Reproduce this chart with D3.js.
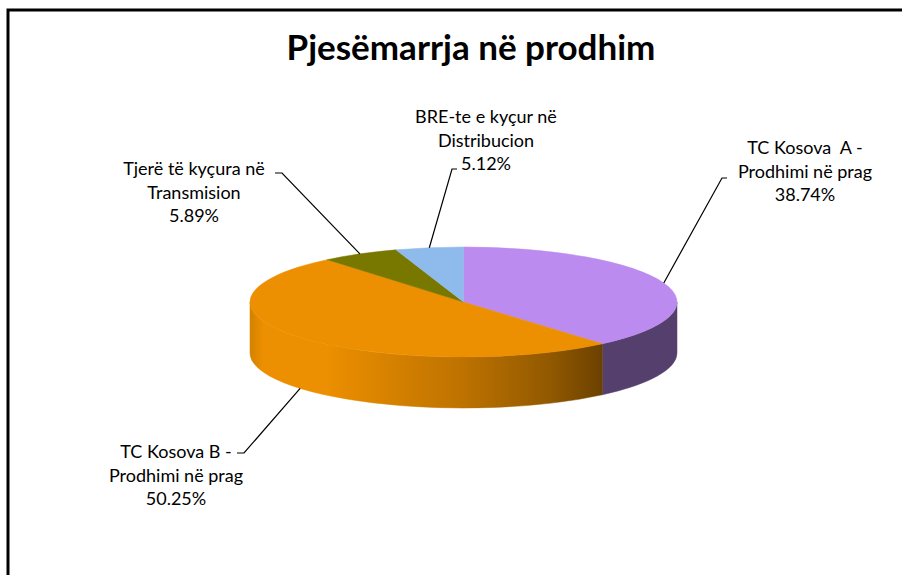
<!DOCTYPE html>
<html>
<head>
<meta charset="utf-8">
<script src="https://cdn.jsdelivr.net/npm/d3@7"></script>
<style>
  html, body { margin: 0; padding: 0; background: #fff; }
  svg { display: block; }
  text { white-space: pre; }
</style>
</head>
<body>
<div id="chart"></div>
<script>
// data
var title = 'Pjesëmarrja në prodhim';
var categories = ['TC Kosova  A - Prodhimi në prag', 'TC Kosova B - Prodhimi në prag', 'Tjerë të kyçura në Transmision', 'BRE-te e kyçur në Distribucion'];
var labelLines = [
  ['TC Kosova  A -', 'Prodhimi në prag'],
  ['TC Kosova B -', 'Prodhimi në prag'],
  ['Tjerë të kyçura në', 'Transmision'],
  ['BRE-te e kyçur në', 'Distribucion']
];
var values = [38.74, 50.25, 5.89, 5.12];
var colors = ['#bc8bef', '#ec8f00', '#787800', '#8ebbeb'];

// label layout: centre x / first baseline, and where the leader elbow sits
var labelPos = [[805, 154], [176, 458], [194, 175], [486, 123]];
var elbowPos = [[727, 178], [237, 453], [275, 173], [457, 169]];

var W = 902, H = 575;
var cx = 463.5, cy = 302, rx = 213.5, ry = 55, depth = 51;

var svg = d3.select('#chart').append('svg').attr('width', W).attr('height', H);

// chart border (only top and left show in the shot)
svg.append('path')
  .attr('d', 'M8,575 L8,10 L902,10')
  .attr('fill', 'none')
  .attr('stroke', '#000')
  .attr('stroke-width', 3);

svg.append('text')
  .attr('x', 471)
  .attr('y', 60)
  .attr('text-anchor', 'middle')
  .attr('font-family', 'Lato, sans-serif')
  .attr('font-weight', 'bold')
  .attr('font-size', 35)
  .attr('fill', '#000')
  .text(title);

var pie = d3.pie().sort(null).value(function (d) { return d; });
var arcs = pie(values);
var total = d3.sum(values);

// angle (clockwise from 12 o'clock) -> point on the tilted ellipse
function pt(a, dy) {
  return [cx + rx * Math.sin(a), cy - ry * Math.cos(a) + (dy || 0)];
}

// side shading across the width of the pie
var shadeStops = [[0, 0.9], [0.03, 1], [0.18, 1], [0.5, 0.8], [0.7, 0.62], [0.83, 0.45], [1, 0.45]];
var defs = svg.append('defs');
arcs.forEach(function (d, i) {
  var g = defs.append('linearGradient')
    .attr('id', 'side' + i)
    .attr('gradientUnits', 'userSpaceOnUse')
    .attr('x1', cx - rx).attr('x2', cx + rx)
    .attr('y1', 0).attr('y2', 0);
  var c = d3.rgb(colors[i]);
  shadeStops.forEach(function (s) {
    g.append('stop')
      .attr('offset', s[0])
      .attr('stop-color', d3.rgb(c.r * s[1], c.g * s[1], c.b * s[1]).formatHex());
  });
});

// front walls
var sides = svg.append('g');
arcs.forEach(function (d, i) {
  var s = Math.max(d.startAngle, Math.PI / 2);
  var e = Math.min(d.endAngle, Math.PI * 1.5);
  if (e <= s) return;
  var p0 = pt(s), p1 = pt(e), q1 = pt(e, depth), q0 = pt(s, depth);
  var large = (e - s) > Math.PI ? 1 : 0;
  sides.append('path')
    .attr('d', 'M' + p0 + ' A' + rx + ',' + ry + ' 0 ' + large + ' 1 ' + p1 +
      ' L' + q1 + ' A' + rx + ',' + ry + ' 0 ' + large + ' 0 ' + q0 + ' Z')
    .attr('fill', 'url(#side' + i + ')')
    .attr('stroke', 'url(#side' + i + ')')
    .attr('stroke-width', 0.5);
});

// top faces
svg.append('g')
  .selectAll('path')
  .data(arcs)
  .enter().append('path')
  .attr('d', function (d) {
    var large = (d.endAngle - d.startAngle) > Math.PI ? 1 : 0;
    return 'M' + cx + ',' + cy + ' L' + pt(d.startAngle) + ' A' + rx + ',' + ry + ' 0 ' + large + ' 1 ' + pt(d.endAngle) + ' Z';
  })
  .attr('fill', function (d, i) { return colors[i]; })
  .attr('stroke', function (d, i) { return colors[i]; })
  .attr('stroke-width', 0.5);

// leader lines + labels
var labels = svg.append('g')
  .attr('font-family', 'Lato, sans-serif')
  .attr('font-size', 18)
  .attr('fill', '#000');

arcs.forEach(function (d, i) {
  var mid = (d.startAngle + d.endAngle) / 2;
  // front slices hook onto the bottom rim
  var a = pt(mid, Math.cos(mid) < 0 ? depth : 0);
  var el = elbowPos[i];
  var tick = a[0] < el[0] ? -5 : 7;
  svg.append('polyline')
    .attr('points', [a, [el[0] + tick, el[1]], el].join(' '))
    .attr('fill', 'none')
    .attr('stroke', '#000')
    .attr('stroke-width', 1.2);

  var t = labels.append('text')
    .attr('text-anchor', 'middle')
    .attr('x', labelPos[i][0])
    .attr('y', labelPos[i][1]);
  var lines = labelLines[i].concat([(d.value / total * 100).toFixed(2) + '%']);
  lines.forEach(function (l, k) {
    t.append('tspan')
      .attr('x', labelPos[i][0])
      .attr('dy', k === 0 ? 0 : 23.5)
      .text(l);
  });
});
</script>
</body>
</html>
